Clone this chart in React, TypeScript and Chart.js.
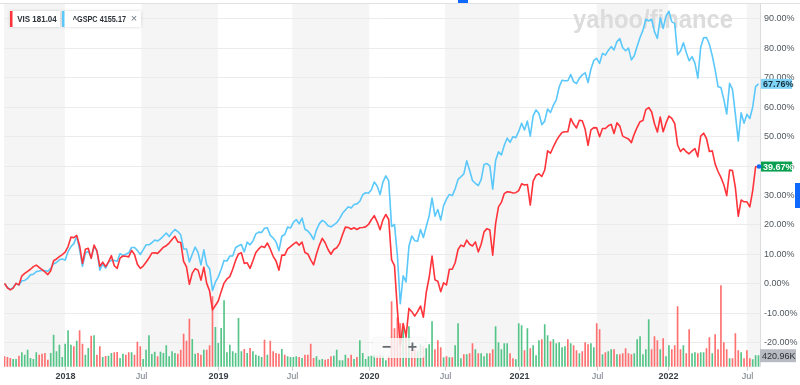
import React, { useEffect, useRef } from 'react';
import { Chart, registerables } from 'chart.js';

Chart.register(...registerables);

// Weekly % change since the week of Aug 4, 2017 (index 0) to the week of Aug 1, 2022 (index 261)
const VIS_PCT = [
  0,-1.5,-2.2,-1.6,0,-0.5,2.5,3.4,4.1,4.8,
  5.7,6.2,5.4,4.7,3.9,3.0,4.3,7.7,8.3,9.1,
  9.8,10.6,12.5,15.7,15.5,16.3,12.8,6.8,11.6,11.9,
  8.5,13.0,11.0,5.8,7.2,5.7,7.3,9.4,6.0,5.1,
  8.6,9.3,9.2,9.0,11.2,9.8,6.5,5.1,5.9,7.2,
  8.6,10.3,10.4,10.2,11.2,12.3,12.8,13.7,14.9,16.0,
  14.1,13.9,7.5,5.6,-0.3,3.5,5.0,4.5,1.1,5.5,
  0.0,-2.6,-9.0,-7.5,-6.0,-2.8,0.1,1.5,2.3,4.8,
  7.8,10.0,10.4,6.8,7.0,5.1,7.7,10.5,11.7,12.6,
  12.2,13.7,11.7,9.2,7.6,4.5,9.6,9.6,11.7,12.5,
  13.3,14.0,13.0,14.0,10.5,10.0,8.0,6.3,10.0,13.0,
  15.3,13.8,11.5,9.9,11.5,12.1,13.6,16.5,19.1,19.0,
  18.4,18.9,18.3,18.9,19.0,19.2,20.0,21.6,23.0,20.9,
  18.2,21.6,23.4,21.7,8.0,6.0,-9.0,-21.0,-13.6,-18.0,
  -8.5,-9.6,-11.1,-9.6,-7.7,-11.5,-3.0,2.0,9.3,1.2,
  0.7,-2.8,0.2,-0.5,4.8,4.8,7.0,11.5,13.0,12.5,
  14.7,13.3,12.7,14.1,10.7,13.3,17.5,18.6,18.1,9.6,
  20.3,26.0,27.5,30.5,31.1,31.0,30.7,30.8,31.5,33.8,
  33.4,33.6,26.6,34.7,36.7,37.2,36.3,38.5,45.0,44.2,
  46.4,48.4,50.0,51.2,51.5,51.5,56.0,54.1,52.8,55.4,
  55.2,52.3,46.9,52.1,52.9,52.8,49.8,52.6,52.6,53.5,
  54.0,50.9,54.5,53.4,50.0,49.5,49.0,47.8,50.7,53.0,
  54.9,55.3,59.0,59.7,58.3,54.2,51.4,56.5,51.5,54.5,
  56.8,56.0,54.3,47.0,44.8,45.8,44.7,44.0,45.0,45.8,
  43.0,50.0,51.0,49.2,44.8,45.0,40.5,38.0,36.0,33.5,
  29.8,38.5,38.3,32.5,22.8,28.3,27.7,27.7,26.0,31.5,
  39.6,39.67,
];

const GSPC_PCT = [
  0,-1.4,-2.1,-1.4,0.0,-0.6,0.9,1.0,1.7,2.9,
  3.1,4.0,4.2,4.5,4.3,4.1,5.1,6.7,7.1,8.0,
  8.3,7.9,10.8,12.5,13.5,16.0,11.5,5.8,10.3,10.9,
  8.7,12.5,11.1,4.5,6.6,5.2,7.2,7.8,7.8,7.5,
  10.1,9.5,9.9,10.4,12.2,12.2,11.2,9.8,11.4,13.1,
  13.1,13.8,14.7,14.4,15.1,16.1,17.1,15.9,17.3,18.3,
  17.6,16.5,11.7,11.7,7.3,9.9,12.3,10.5,6.3,11.4,
  6.3,5.0,-2.4,0.4,2.2,4.8,7.8,7.6,9.3,9.3,
  12.1,12.8,13.2,10.7,14.0,13.1,14.4,16.8,17.4,17.3,
  18.7,18.9,16.3,15.4,14.1,11.1,16.0,16.6,19.1,18.8,
  20.7,21.7,20.2,22.2,18.4,17.8,16.6,14.9,18.2,20.3,
  21.4,20.8,19.6,19.2,19.9,20.6,22.0,23.8,24.9,26.0,
  25.6,26.8,27.0,27.9,30.1,30.8,30.6,31.8,34.4,33.1,
  30.2,34.4,36.5,34.8,19.3,20.0,9.5,-6.9,2.6,0.5,
  12.6,16.1,14.5,14.3,18.3,15.6,19.3,22.9,29.0,22.8,
  25.1,21.5,26.4,28.6,30.2,29.8,32.1,35.3,36.2,37.2,
  41.6,38.4,34.9,34.0,33.2,35.2,40.4,40.7,39.9,32.0,
  41.7,44.7,43.6,46.9,49.3,47.9,49.8,49.5,51.6,54.4,
  52.1,55.1,50.0,56.9,58.9,57.7,53.9,55.1,59.2,58.0,
  60.5,62.3,66.7,69.0,68.8,68.8,70.9,68.5,67.8,69.7,
  70.8,71.5,68.2,72.8,75.7,76.4,74.7,78.1,77.5,79.1,
  80.4,79.3,82.1,83.1,80.0,79.0,79.9,75.9,77.3,80.5,
  83.5,85.9,89.7,89.1,89.7,85.5,83.2,90.2,86.6,90.8,
  92.4,88.8,88.3,77.6,78.9,81.7,78.4,75.6,77.0,74.8,
  69.7,80.2,83.4,83.5,81.2,77.3,72.5,66.8,66.5,62.5,
  57.5,67.9,65.9,57.5,48.4,57.9,54.4,57.4,56.0,59.9,
  66.8,67.76,
];

// Weekly VIS volume, thousands of shares
const VOLUME_K = [
  383,356,318,280,280,410,536,448,640,318,
  280,536,448,486,509,257,509,1214,575,831,
  356,869,1379,831,766,984,1379,869,448,701,
  1176,1187,448,766,356,400,410,509,536,548,
  318,486,448,536,536,448,946,766,280,640,
  1187,471,563,383,563,509,804,383,575,509,
  486,640,1252,984,1827,1046,486,509,448,640,
  640,804,2681,1505,892,1467,2528,536,831,575,
  509,1850,575,663,509,701,575,448,410,356,
  1023,448,984,575,509,486,663,448,383,356,
  356,383,356,318,448,448,869,318,383,257,
  280,257,280,383,410,640,230,230,448,318,
  448,280,356,996,509,280,383,410,448,410,
  448,410,230,410,2490,1455,1877,1647,1455,1149,
  1532,651,651,575,843,766,689,843,1724,651,
  996,728,345,383,345,345,804,1647,306,460,
  460,498,881,651,498,498,383,498,498,651,
  1532,919,651,881,881,498,306,268,1647,1570,
  613,1455,689,804,421,996,1034,1609,1187,958,
  1034,881,919,728,766,1034,881,804,613,498,
  575,919,843,881,728,1647,1417,460,536,575,
  651,651,460,460,498,689,498,460,498,1034,
  1149,460,651,1800,651,1149,996,651,1072,383,
  804,651,804,2298,651,804,498,1417,498,536,
  498,536,536,689,1111,498,1226,651,3102,919,
  651,306,306,1264,613,536,306,613,306,268,
  421,420.96,
];

// Tick labels and their positions on the week axis
const TICK_LABELS = ['2018', 'Jul', '2019', 'Jul', '2020', 'Jul', '2021', 'Jul', '2022', 'Jul'];
const TICK_POS = [20.9, 47.4, 73.9, 99.6, 126.3, 152.5, 178.2, 205.0, 229.8, 256.9];
const Y_TICKS = [-20, -10, 0, 10, 20, 30, 40, 50, 60, 70, 80, 90];

const VIS_NAME = 'VIS';
const VIS_LAST = '181.04';
const GSPC_NAME = '^GSPC';
const GSPC_LAST = '4155.17';

const FONT = "'Liberation Sans', Arial, sans-serif";
const RED = '#ff333a';
const BLUE = '#5ac8fa';

function line(ctx: CanvasRenderingContext2D, x0: number, y0: number, x1: number, y1: number) {
  ctx.beginPath();
  ctx.moveTo(x0, y0);
  ctx.lineTo(x1, y1);
  ctx.stroke();
}

function fitText(ctx: CanvasRenderingContext2D, text: string, x: number, y: number, width: number) {
  const w = ctx.measureText(text).width;
  ctx.save();
  ctx.translate(x, y);
  ctx.scale(width / w, 1);
  ctx.fillText(text, 0, 0);
  ctx.restore();
}

function rrect(ctx: CanvasRenderingContext2D, x: number, y: number, w: number, h: number, r: number) {
  ctx.beginPath();
  ctx.moveTo(x + r, y);
  ctx.lineTo(x + w - r, y);
  ctx.quadraticCurveTo(x + w, y, x + w, y + r);
  ctx.lineTo(x + w, y + h - r);
  ctx.quadraticCurveTo(x + w, y + h, x + w - r, y + h);
  ctx.lineTo(x + r, y + h);
  ctx.quadraticCurveTo(x, y + h, x, y + h - r);
  ctx.lineTo(x, y + r);
  ctx.quadraticCurveTo(x, y, x + r, y);
  ctx.closePath();
}

const decor = {
  id: 'decor',
  beforeDatasetsDraw(chart: any) {
    const { ctx, chartArea: a } = chart;
    const sx = chart.scales.x;
    const sy = chart.scales.y;
    ctx.save();
    ctx.fillStyle = '#ffffff';
    ctx.fillRect(0, 0, chart.width, chart.height);

    // alternating half-year bands
    const edges = [sx.min, ...TICK_POS, sx.max];
    ctx.fillStyle = '#f5f5f5';
    for (let k = 0; k + 1 < edges.length; k += 2) {
      const x0 = sx.getPixelForValue(edges[k]);
      const x1 = sx.getPixelForValue(edges[k + 1]);
      ctx.fillRect(x0, a.top, x1 - x0, a.bottom - a.top);
    }

    // horizontal grid
    ctx.lineWidth = 1;
    ctx.strokeStyle = '#ebebeb';
    for (const v of Y_TICKS) {
      const py = Math.round(sy.getPixelForValue(v)) + 0.5;
      line(ctx, a.left, py, a.right, py);
    }

    // top border and right axis line
    ctx.strokeStyle = '#e2e2e2';
    line(ctx, 0, 3.5, chart.width, 3.5);
    ctx.strokeStyle = '#dcdcdc';
    line(ctx, a.right - 0.5, a.top, a.right - 0.5, a.bottom);

    // watermark
    ctx.fillStyle = '#dcdcdc';
    ctx.font = `bold 25px ${FONT}`;
    ctx.textBaseline = 'alphabetic';
    ctx.textAlign = 'left';
    fitText(ctx, 'yahoo/finance', 573, 28, 160);

    // x ticks + labels
    ctx.strokeStyle = '#cfcfcf';
    ctx.textAlign = 'center';
    ctx.textBaseline = 'middle';
    TICK_POS.forEach((p, k) => {
      const px = Math.round(sx.getPixelForValue(p)) + 0.5;
      line(ctx, px, a.bottom, px, a.bottom + 4);
      const isYear = TICK_LABELS[k] !== 'Jul';
      ctx.font = `${isYear ? 'bold ' : ''}9px ${FONT}`;
      ctx.fillStyle = isYear ? '#3b4046' : '#707880';
      ctx.fillText(TICK_LABELS[k], px, 376.5);
    });

    // right axis labels
    ctx.textAlign = 'left';
    ctx.font = `9px ${FONT}`;
    ctx.fillStyle = '#4f565d';
    for (const v of Y_TICKS) {
      const py = sy.getPixelForValue(v);
      ctx.fillText(v.toFixed(2) + '%', a.right + 3, py + 0.5);
    }
    ctx.restore();
  },
  afterDatasetsDraw(chart: any) {
    const { ctx, chartArea: a } = chart;
    const sy = chart.scales.y;
    const sv = chart.scales.yv;
    ctx.save();
    ctx.textBaseline = 'middle';
    ctx.textAlign = 'left';

    // last value pills
    const gLast = GSPC_PCT[GSPC_PCT.length - 1];
    const vLast = VIS_PCT[VIS_PCT.length - 1];
    const gy = sy.getPixelForValue(gLast);
    ctx.fillStyle = '#7fd4f8';
    ctx.fillRect(a.right, gy - 5, 31, 10);
    ctx.fillStyle = '#16303d';
    ctx.font = `bold 9px ${FONT}`;
    ctx.fillText(gLast.toFixed(2) + '%', a.right + 2, gy + 0.5);

    const vy = sy.getPixelForValue(vLast);
    ctx.fillStyle = '#08a04f';
    ctx.fillRect(a.right, vy - 5, 31, 10);
    ctx.fillStyle = '#ffffff';
    ctx.fillText(vLast.toFixed(2) + '%', a.right + 2, vy + 0.5);
    ctx.fillStyle = '#0f69ff';
    ctx.beginPath();
    ctx.arc(a.right - 2, vy, 2.3, 0, Math.PI * 2);
    ctx.fill();

    // last volume pill
    const volLast = VOLUME_K[VOLUME_K.length - 1];
    const vvy = sv.getPixelForValue(volLast);
    ctx.fillStyle = '#b8bcc2';
    ctx.fillRect(a.right - 1, vvy - 6.5, 36, 13);
    ctx.fillStyle = '#2a2f35';
    ctx.font = `9px ${FONT}`;
    ctx.fillText(volLast.toFixed(2) + 'K', a.right + 1, vvy + 0.5);

    // zoom controls
    ctx.fillStyle = 'rgba(255,255,255,0.8)';
    ctx.shadowColor = 'rgba(0,0,0,0.12)';
    ctx.shadowBlur = 3;
    rrect(ctx, 373, 338, 52, 20, 3);
    ctx.fill();
    ctx.shadowBlur = 0;
    ctx.fillStyle = '#666c72';
    ctx.font = `bold 16px ${FONT}`;
    ctx.textAlign = 'center';
    ctx.fillText('\u2212', 386.5, 348);
    ctx.fillText('+', 412.5, 348);

    // legend chips
    ctx.textAlign = 'left';
    ctx.shadowColor = 'rgba(0,0,0,0.18)';
    ctx.shadowBlur = 3;
    ctx.fillStyle = '#ffffff';
    ctx.fillRect(10, 11, 50, 16);
    ctx.fillRect(62, 11, 79, 16);
    ctx.shadowBlur = 0;
    ctx.fillStyle = RED;
    ctx.fillRect(10, 11, 2.5, 16);
    ctx.fillStyle = BLUE;
    ctx.fillRect(62, 11, 2.5, 16);
    ctx.fillStyle = '#2c3238';
    ctx.font = `bold 9px ${FONT}`;
    fitText(ctx, `${VIS_NAME} ${VIS_LAST}`, 17.3, 19.5, 39.4);
    fitText(ctx, `${GSPC_NAME} ${GSPC_LAST}`, 72.7, 19.5, 53.3);
    ctx.fillStyle = '#6e7780';
    ctx.font = `11px ${FONT}`;
    ctx.textAlign = 'center';
    ctx.fillText('\u00d7', 134, 19);

    // UI accents
    ctx.fillStyle = '#0f69ff';
    ctx.fillRect(458, 0, 10, 3);
    ctx.fillRect(795, 183, 5, 25);
    ctx.restore();
  },
};

export default function App() {
  const ref = useRef<HTMLCanvasElement>(null);
  useEffect(() => {
    document.body.style.margin = '0';
    const canvas = ref.current!;
    const up = VOLUME_K.map((_, i) => i > 0 && VIS_PCT[i] > VIS_PCT[i - 1]);
    const chart = new Chart(canvas, {
      type: 'bar',
      data: {
        datasets: [
          {
            type: 'line',
            label: VIS_NAME,
            data: VIS_PCT.map((v, i) => ({ x: i, y: v })),
            borderColor: RED,
            borderWidth: 1.6,
            borderJoinStyle: 'round',
            pointRadius: 0,
            yAxisID: 'y',
            order: 1,
          } as any,
          {
            type: 'line',
            label: GSPC_NAME,
            data: GSPC_PCT.map((v, i) => ({ x: i, y: v })),
            borderColor: BLUE,
            borderWidth: 1.6,
            borderJoinStyle: 'round',
            pointRadius: 0,
            yAxisID: 'y',
            order: 2,
          } as any,
          {
            type: 'bar',
            label: 'Volume',
            data: VOLUME_K.map((v, i) => ({ x: i, y: v })),
            backgroundColor: up.map((u) => (u ? '#55c488' : '#ff7070')),
            barThickness: 1,
            yAxisID: 'yv',
            order: 3,
          } as any,
        ],
      },
      options: {
        responsive: false,
        animation: false,
        events: [],
        layout: { padding: { left: 4, top: 4, right: 39, bottom: 18.3 } },
        plugins: { legend: { display: false }, tooltip: { enabled: false } },
        scales: {
          x: { type: 'linear', display: false, min: -0.173, max: 261.87, offset: false },
          y: { type: 'linear', display: false, min: -28.29, max: 94.87 },
          yv: { type: 'linear', display: false, min: 0, max: 13880 },
        },
      } as any,
      plugins: [decor],
    });
    return () => chart.destroy();
  }, []);
  return <canvas ref={ref} width={800} height={385} style={{ display: 'block' }} />;
}
